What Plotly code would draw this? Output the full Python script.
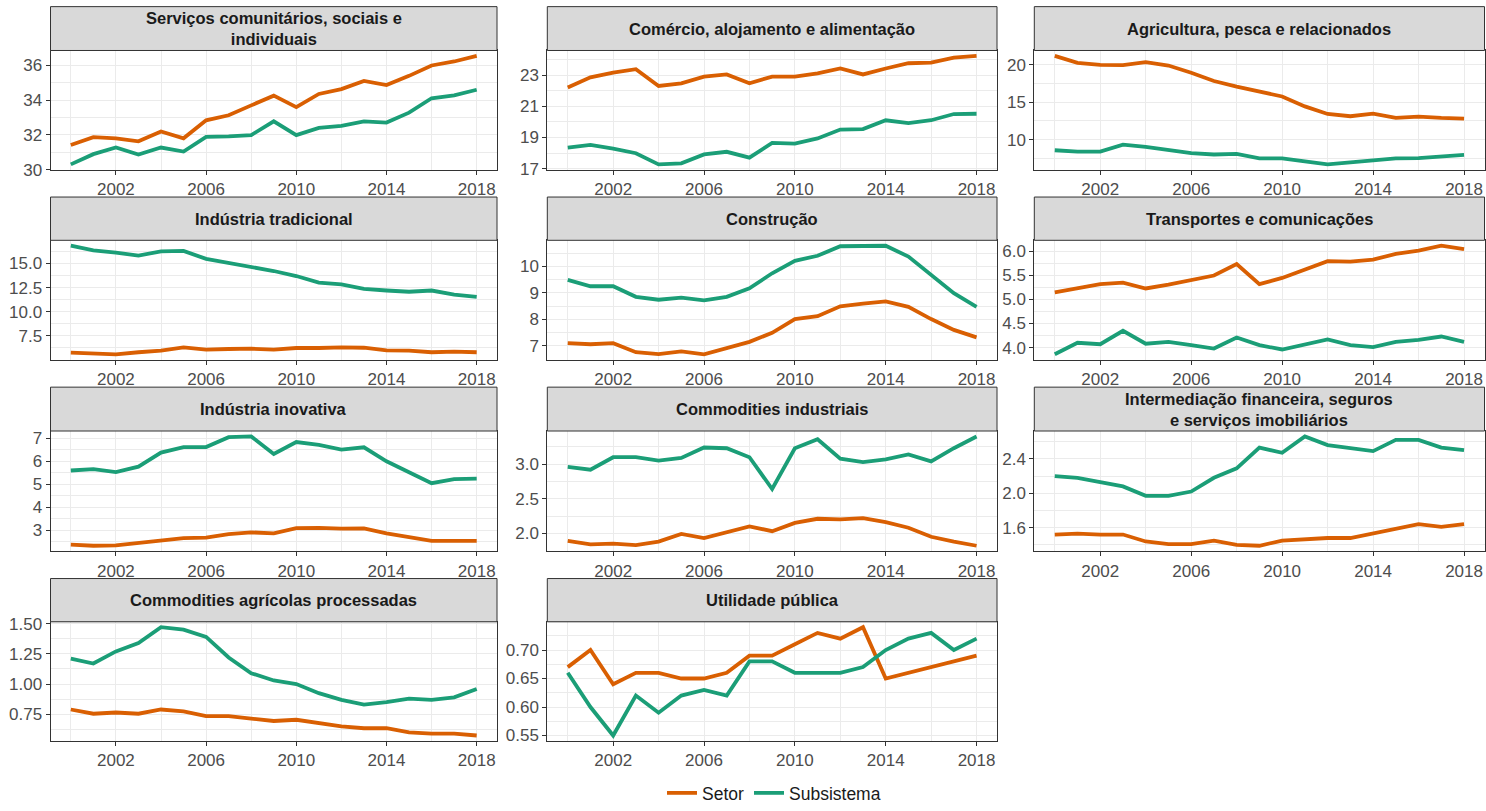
"""Setor vs Subsistema, small multiples (facet_wrap style) with plotly."""

import plotly.graph_objects as go

anos = list(range(2000, 2019))

titulos = [
    'Serviços comunitários, sociais e<br>individuais',
    'Comércio, alojamento e alimentação',
    'Agricultura, pesca e relacionados',
    'Indústria tradicional',
    'Construção',
    'Transportes e comunicações',
    'Indústria inovativa',
    'Commodities industriais',
    'Intermediação financeira, seguros<br>e serviços imobiliários',
    'Commodities agrícolas processadas',
    'Utilidade pública',
]

# Setor (laranja)
setor_servicos = [31.42, 31.87, 31.80, 31.63, 32.20, 31.80, 32.84, 33.13, 33.70, 34.26,
                  33.60, 34.36, 34.64, 35.11, 34.87, 35.40, 36.00, 36.23, 36.55]
setor_comercio = [22.22, 22.87, 23.17, 23.40, 22.32, 22.49, 22.92, 23.06, 22.49, 22.92,
                  22.92, 23.13, 23.44, 23.06, 23.44, 23.78, 23.82, 24.14, 24.25]
setor_agricultura = [21.19, 20.26, 20.00, 19.96, 20.35, 19.91, 18.94, 17.84, 17.09, 16.43,
                     15.77, 14.45, 13.44, 13.13, 13.48, 12.91, 13.08, 12.91, 12.82]
setor_ind_trad = [5.76, 5.66, 5.59, 5.80, 5.97, 6.31, 6.07, 6.14, 6.17, 6.07,
                  6.24, 6.24, 6.31, 6.27, 6.00, 5.97, 5.80, 5.86, 5.80]
setor_construcao = [7.10, 7.06, 7.10, 6.76, 6.69, 6.79, 6.68, 6.91, 7.15, 7.49,
                    8.01, 8.12, 8.49, 8.59, 8.68, 8.47, 8.01, 7.60, 7.32]
setor_transportes = [5.15, 5.23, 5.32, 5.35, 5.23, 5.31, 5.40, 5.50, 5.74, 5.32,
                     5.45, 5.63, 5.80, 5.79, 5.83, 5.95, 6.02, 6.12, 6.05]
setor_ind_inov = [2.37, 2.32, 2.34, 2.44, 2.55, 2.65, 2.67, 2.83, 2.90, 2.86,
                  3.09, 3.10, 3.06, 3.07, 2.86, 2.70, 2.53, 2.53, 2.53]
setor_comm_ind = [1.89, 1.84, 1.85, 1.83, 1.88, 1.99, 1.93, 2.01, 2.10, 2.03,
                  2.15, 2.21, 2.20, 2.22, 2.16, 2.08, 1.95, 1.88, 1.82]
setor_financeira = [1.52, 1.53, 1.52, 1.52, 1.44, 1.41, 1.41, 1.45, 1.40, 1.39,
                    1.45, 1.47, 1.48, 1.48, 1.53, 1.59, 1.64, 1.61, 1.64]
setor_comm_agr = [0.790, 0.755, 0.765, 0.755, 0.790, 0.775, 0.735, 0.735, 0.715, 0.695,
                  0.705, 0.680, 0.650, 0.635, 0.635, 0.600, 0.590, 0.590, 0.575]
setor_utilidade = [0.67, 0.70, 0.64, 0.66, 0.66, 0.65, 0.65, 0.66, 0.69, 0.69,
                   0.71, 0.73, 0.72, 0.74, 0.65, 0.66, 0.67, 0.68, 0.69]

# Subsistema (verde)
sub_servicos = [30.30, 30.89, 31.27, 30.87, 31.27, 31.04, 31.89, 31.91, 31.99, 32.78,
                31.99, 32.40, 32.52, 32.78, 32.71, 33.28, 34.11, 34.28, 34.60]
sub_comercio = [18.35, 18.52, 18.29, 17.99, 17.27, 17.34, 17.91, 18.08, 17.70, 18.65,
                18.61, 18.94, 19.51, 19.54, 20.11, 19.92, 20.11, 20.51, 20.53]
sub_agricultura = [8.59, 8.41, 8.41, 9.34, 9.03, 8.63, 8.19, 8.02, 8.10, 7.49,
                   7.49, 7.09, 6.70, 6.96, 7.22, 7.49, 7.53, 7.75, 7.97]
sub_ind_trad = [16.84, 16.36, 16.13, 15.82, 16.26, 16.30, 15.48, 15.07, 14.73, 14.22,
                13.70, 13.02, 12.84, 12.36, 12.20, 12.07, 12.20, 11.78, 11.55]
sub_construcao = [9.49, 9.25, 9.25, 8.85, 8.74, 8.82, 8.72, 8.85, 9.17, 9.74,
                  10.21, 10.40, 10.76, 10.78, 10.78, 10.37, 9.68, 8.99, 8.47]
sub_transportes = [3.86, 4.10, 4.07, 4.35, 4.08, 4.12, 4.05, 3.98, 4.21, 4.05,
                   3.96, 4.07, 4.17, 4.05, 4.01, 4.12, 4.16, 4.23, 4.12]
sub_ind_inov = [5.59, 5.65, 5.52, 5.76, 6.37, 6.61, 6.61, 7.04, 7.07, 6.31,
                6.83, 6.70, 6.50, 6.60, 5.99, 5.52, 5.04, 5.22, 5.24]
sub_comm_ind = [2.96, 2.92, 3.10, 3.10, 3.05, 3.09, 3.24, 3.23, 3.10, 2.64,
                3.23, 3.36, 3.08, 3.03, 3.07, 3.14, 3.04, 3.23, 3.40]
sub_financeira = [2.20, 2.18, 2.13, 2.08, 1.97, 1.97, 2.02, 2.18, 2.29, 2.53,
                  2.47, 2.66, 2.56, 2.52, 2.49, 2.62, 2.62, 2.53, 2.50]
sub_comm_agr = [1.21, 1.17, 1.27, 1.34, 1.47, 1.45, 1.39, 1.22, 1.09, 1.03,
                1.00, 0.925, 0.87, 0.83, 0.85, 0.88, 0.87, 0.89, 0.96]
sub_utilidade = [0.66, 0.60, 0.55, 0.62, 0.59, 0.62, 0.63, 0.62, 0.68, 0.68,
                 0.66, 0.66, 0.66, 0.67, 0.70, 0.72, 0.73, 0.70, 0.72]

setor = [setor_servicos, setor_comercio, setor_agricultura, setor_ind_trad,
         setor_construcao, setor_transportes, setor_ind_inov, setor_comm_ind,
         setor_financeira, setor_comm_agr, setor_utilidade]
subsistema = [sub_servicos, sub_comercio, sub_agricultura, sub_ind_trad,
              sub_construcao, sub_transportes, sub_ind_inov, sub_comm_ind,
              sub_financeira, sub_comm_agr, sub_utilidade]

# y tick step / origin / format per panel (ggplot pretty breaks)
y_dtick = [2, 2, 5, 2.5, 1, 0.5, 1, 0.5, 0.4, 0.25, 0.05]
y_tick0 = [0, 1, 0, 0, 0, 0, 0, 0, 0, 0, 0]
y_fmt = ['d', 'd', 'd', '.1f', 'd', '.1f', 'd', '.1f', '.1f', '.2f', '.2f']

COR_SETOR = '#D95F02'
COR_SUB = '#1B9E77'
W, H = 1486, 811
FONTE = 'Liberation Sans, Arial, sans-serif'

# panel boxes in pixels
cols_px = [(50.5, 497), (547.3, 997), (1034.3, 1484.5)]
rows_px = [(51, 171.5), (242.7, 363.3), (435.3, 556.7), (628, 748.3)]
strip_top = [6.7, 199, 391, 584.3]

fig = go.Figure()
layout = {}
shapes = []
annotations = []

for i, titulo in enumerate(titulos):
    r, c = divmod(i, 3)
    n = '' if i == 0 else str(i + 1)
    x0, x1 = cols_px[c]
    y0, y1 = rows_px[r]

    fig.add_trace(go.Scatter(
        x=anos, y=setor[i], mode='lines', name='Setor',
        line=dict(color=COR_SETOR, width=3.8),
        xaxis='x' + n, yaxis='y' + n, showlegend=(i == 0), legendrank=1))
    fig.add_trace(go.Scatter(
        x=anos, y=subsistema[i], mode='lines', name='Subsistema',
        line=dict(color=COR_SUB, width=3.8),
        xaxis='x' + n, yaxis='y' + n, showlegend=(i == 0), legendrank=2))

    vals = setor[i] + subsistema[i]
    lo, hi = min(vals), max(vals)
    pad = (hi - lo) * 0.05

    eixo = dict(
        showline=True, mirror=True, linecolor='#333333', linewidth=1,
        ticks='outside', ticklen=4, tickcolor='#333333', tickwidth=1,
        tickfont=dict(family=FONTE, size=17, color='#4D4D4D'),
        showgrid=True, gridcolor='#EBEBEB', gridwidth=1.2,
        zeroline=False, automargin=False,
    )
    layout['xaxis' + n] = dict(
        eixo, domain=[x0 / W, x1 / W], anchor='y' + n,
        range=[1999.1, 2018.9], tick0=2002, dtick=4,
        minor=dict(dtick=2, tick0=2000, showgrid=True, gridcolor='#EBEBEB', gridwidth=0.6),
    )
    layout['yaxis' + n] = dict(
        eixo, domain=[1 - y1 / H, 1 - y0 / H], anchor='x' + n,
        range=[lo - pad, hi + pad], tick0=y_tick0[i], dtick=y_dtick[i],
        tickformat=y_fmt[i],
        minor=dict(dtick=y_dtick[i] / 2, tick0=y_tick0[i], showgrid=True,
                   gridcolor='#EBEBEB', gridwidth=0.6),
    )

    # strip
    shapes.append(dict(
        type='rect', xref='paper', yref='paper',
        x0=x0 / W, x1=x1 / W, y0=1 - y0 / H, y1=1 - strip_top[r] / H,
        fillcolor='#D9D9D9', line=dict(color='#333333', width=1), layer='above'))
    annotations.append(dict(
        xref='paper', yref='paper', showarrow=False,
        x=(x0 + x1) / 2 / W, y=1 - (y0 + strip_top[r]) / 2 / H,
        xanchor='center', yanchor='middle',
        text='<b>' + titulo + '</b>',
        font=dict(family=FONTE, size=16.5, color='#1A1A1A')))

fig.update_layout(
    width=W, height=H,
    margin=dict(l=0, r=0, t=0, b=0),
    plot_bgcolor='white', paper_bgcolor='white',
    font=dict(family=FONTE),
    shapes=shapes, annotations=annotations,
    legend=dict(
        orientation='h', x=774 / W, xanchor='center', y=1 - 801 / H, yanchor='middle',
        font=dict(family=FONTE, size=17.5, color='#1A1A1A'),
        itemwidth=30, tracegroupgap=0,
    ),
    **layout,
)

# page body margin would shift the figure by 8px and add scrollbars
fig.write_html(
    'out.html',
    config={'displayModeBar': False},
    post_script="document.body.style.margin='0';document.body.style.overflow='hidden';",
)
